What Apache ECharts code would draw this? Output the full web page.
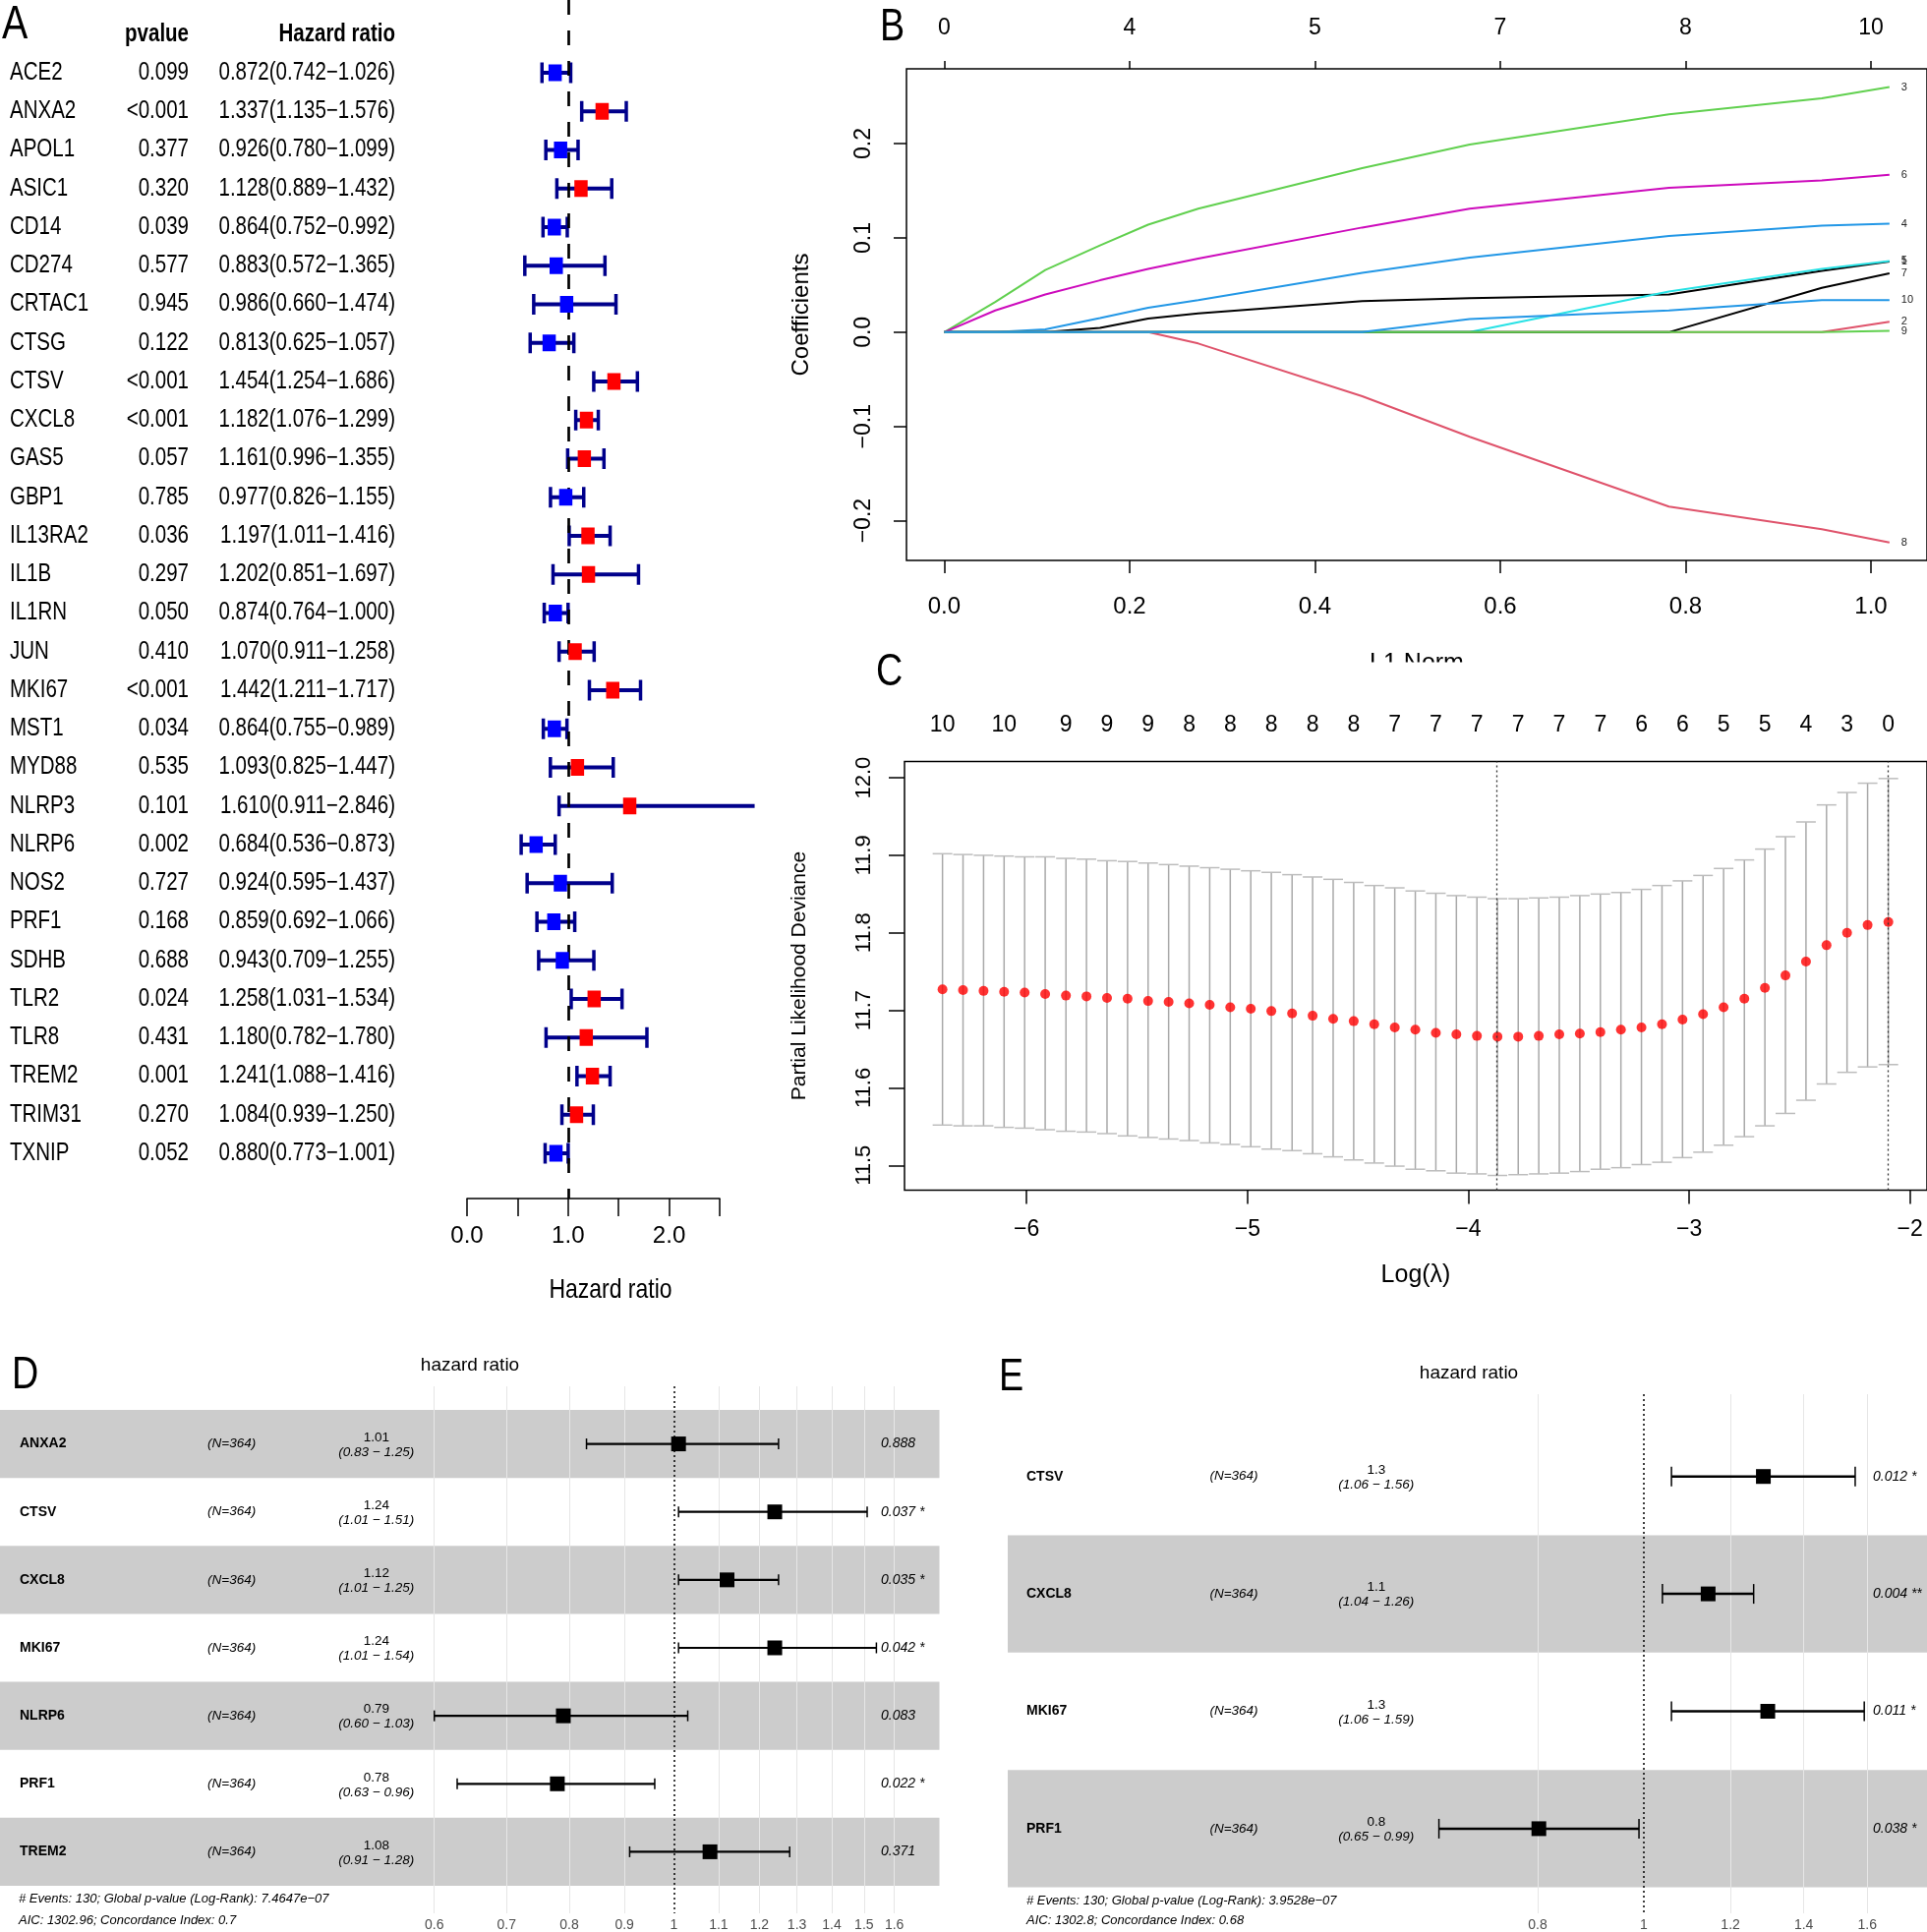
<!DOCTYPE html>
<html><head><meta charset="utf-8">
<script src="https://cdn.jsdelivr.net/npm/echarts@6/dist/echarts.min.js"></script>
<style>html,body{margin:0;padding:0;background:#fff}#c{width:1960px;height:1965px}</style>
</head><body><div id="c"></div>
<script>
// ================= DATA =================
// Panel A : univariate Cox
const genesA = ['ACE2','ANXA2','APOL1','ASIC1','CD14','CD274','CRTAC1','CTSG','CTSV','CXCL8','GAS5','GBP1','IL13RA2','IL1B','IL1RN','JUN','MKI67','MST1','MYD88','NLRP3','NLRP6','NOS2','PRF1','SDHB','TLR2','TLR8','TREM2','TRIM31','TXNIP'];
const pA = ['0.099','<0.001','0.377','0.320','0.039','0.577','0.945','0.122','<0.001','<0.001','0.057','0.785','0.036','0.297','0.050','0.410','<0.001','0.034','0.535','0.101','0.002','0.727','0.168','0.688','0.024','0.431','0.001','0.270','0.052'];
const hrA = [0.872,1.337,0.926,1.128,0.864,0.883,0.986,0.813,1.454,1.182,1.161,0.977,1.197,1.202,0.874,1.070,1.442,0.864,1.093,1.610,0.684,0.924,0.859,0.943,1.258,1.180,1.241,1.084,0.880];
const loA = [0.742,1.135,0.780,0.889,0.752,0.572,0.660,0.625,1.254,1.076,0.996,0.826,1.011,0.851,0.764,0.911,1.211,0.755,0.825,0.911,0.536,0.595,0.692,0.709,1.031,0.782,1.088,0.939,0.773];
const hiA = [1.026,1.576,1.099,1.432,0.992,1.365,1.474,1.057,1.686,1.299,1.355,1.155,1.416,1.697,1.000,1.258,1.717,0.989,1.447,2.846,0.873,1.437,1.066,1.255,1.534,1.780,1.416,1.250,1.001];

// Panel B : LASSO coefficient paths
const xB = [0, 0.055, 0.109, 0.168, 0.220, 0.274, 0.451, 0.567, 0.782, 0.947, 1.020];
const coefB = {
  '1':  [0, 0, 0, 0.0045, 0.0145, 0.020, 0.033, 0.036, 0.040, 0.065, 0.075],
  '2':  [0, 0, 0, 0, 0, 0, 0, 0, 0, 0, 0.011],
  '3':  [0, 0.032, 0.066, 0.092, 0.114, 0.131, 0.174, 0.199, 0.231, 0.248, 0.260],
  '4':  [0, 0, 0.003, 0.015, 0.026, 0.034, 0.063, 0.079, 0.102, 0.113, 0.115],
  '5':  [0, 0, 0, 0, 0, 0, 0, 0, 0.043, 0.067, 0.0755],
  '6':  [0, 0.023, 0.040, 0.055, 0.067, 0.078, 0.111, 0.131, 0.153, 0.161, 0.167],
  '7':  [0, 0, 0, 0, 0, 0, 0, 0, 0, 0.047, 0.0625],
  '8':  [0, 0, 0, 0, 0, -0.012, -0.068, -0.111, -0.185, -0.209, -0.223],
  '9':  [0, 0, 0, 0, 0, 0, 0, 0, 0, 0, 0.0013],
  '10': [0, 0, 0, 0, 0, 0, 0, 0.014, 0.023, 0.034, 0.034]
};
const colorsB = {'1':'#000000','2':'#DF536B','3':'#61D04F','4':'#2297E6','5':'#28E2E5','6':'#CD0BBC','7':'#000000','8':'#DF536B','9':'#61D04F','10':'#2297E6'};
const bTicksX = [0, 0.2, 0.4, 0.6, 0.8, 1.0];
const dfBLab = ['0','4','5','7','8','10'];
const bTicksY = [-0.2, -0.1, 0, 0.1, 0.2];

// Panel C : cross-validation
const logLam = [-6.381,-6.288,-6.195,-6.102,-6.009,-5.916,-5.822,-5.729,-5.636,-5.543,-5.450,-5.357,-5.264,-5.171,-5.078,-4.985,-4.892,-4.798,-4.705,-4.612,-4.519,-4.426,-4.333,-4.240,-4.147,-4.054,-3.961,-3.868,-3.774,-3.681,-3.588,-3.495,-3.402,-3.309,-3.216,-3.123,-3.030,-2.937,-2.844,-2.750,-2.657,-2.564,-2.471,-2.378,-2.285,-2.192,-2.098];
const cvm = [11.727,11.726,11.725,11.724,11.723,11.721,11.719,11.718,11.716,11.715,11.712,11.711,11.709,11.707,11.704,11.702,11.699,11.696,11.693,11.689,11.686,11.682,11.678,11.675,11.671,11.669,11.667,11.666,11.666,11.667,11.669,11.670,11.672,11.675,11.678,11.682,11.688,11.695,11.704,11.715,11.729,11.745,11.763,11.784,11.800,11.810,11.814];
const cvup = [11.902,11.901,11.900,11.899,11.898,11.898,11.896,11.895,11.893,11.892,11.890,11.888,11.886,11.884,11.882,11.880,11.878,11.875,11.872,11.869,11.865,11.861,11.858,11.854,11.851,11.848,11.846,11.844,11.844,11.845,11.846,11.848,11.850,11.852,11.856,11.861,11.867,11.874,11.883,11.894,11.908,11.924,11.943,11.965,11.981,11.993,11.999];
const cvlo = [11.552,11.551,11.551,11.549,11.548,11.546,11.544,11.543,11.541,11.538,11.536,11.534,11.532,11.529,11.527,11.524,11.521,11.519,11.515,11.511,11.507,11.503,11.499,11.495,11.493,11.490,11.489,11.487,11.488,11.489,11.490,11.492,11.495,11.497,11.501,11.504,11.510,11.517,11.526,11.537,11.551,11.567,11.584,11.605,11.620,11.627,11.630];
const dfTopIdx = [0,3,6,8,10,12,14,16,18,20,22,24,26,28,30,32,34,36,38,40,42,44,46];
const dfTopLab = ['10','10','9','9','9','8','8','8','8','8','7','7','7','7','7','7','6','6','5','5','4','3','0'];
const lamMinLog = -3.868, lam1seLog = -2.098;
const cTicksX = [-6, -5, -4, -3, -2];
const cTicksY = [11.5, 11.6, 11.7, 11.8, 11.9, 12.0];

// Panel D : multivariate Cox (7 genes)
const genesD = ['ANXA2','CTSV','CXCL8','MKI67','NLRP6','PRF1','TREM2'];
const hrD = [1.01,1.24,1.12,1.24,0.79,0.78,1.08];
const loD = [0.83,1.01,1.01,1.01,0.60,0.63,0.91];
const hiD = [1.25,1.51,1.25,1.54,1.03,0.96,1.28];
const pD = ['0.888','0.037 *','0.035 *','0.042 *','0.083','0.022 *','0.371'];
const nD = 364;
const ticksD = [0.6,0.7,0.8,0.9,1,1.1,1.2,1.3,1.4,1.5,1.6];
const footD = ['# Events: 130; Global p-value (Log-Rank): 7.4647e\u221207','AIC: 1302.96; Concordance Index: 0.7'];

// Panel E : multivariate Cox (4 genes)
const genesE = ['CTSV','CXCL8','MKI67','PRF1'];
const hrE = [1.286,1.145,1.298,0.802];
const hrLabE = ['1.3','1.1','1.3','0.8'];
const loE = [1.06,1.04,1.06,0.65];
const hiE = [1.56,1.26,1.59,0.99];
const pE = ['0.012 *','0.004 **','0.011 *','0.038 *'];
const nE = 364;
const ticksE = [0.8,1,1.2,1.4,1.6];
const footE = ['# Events: 130; Global p-value (Log-Rank): 3.9528e\u221207','AIC: 1302.8; Concordance Index: 0.68'];

// ================= FONTS =================
function hasFont(name){
  const c=document.createElement('canvas').getContext('2d');
  const s='mmmmmmmmmmlli0123456789WWW';
  c.font='40px monospace'; const w0=c.measureText(s).width;
  c.font='40px "'+name+'", monospace'; const w1=c.measureText(s).width;
  return Math.abs(w0-w1)>0.5;
}
const HAS_NARROW = hasFont('Liberation Sans Narrow');
const SANS = "'Liberation Sans', Arial, sans-serif";
const NARROW = HAS_NARROW ? "'Liberation Sans Narrow', 'Liberation Sans', sans-serif" : SANS;
const NS = HAS_NARROW ? 1 : 0.82;
const NF = HAS_NARROW ? 1 : 0.86;

function txt(text,x,y,size,o){
  o=o||{};
  const al=o.align||'left';
  const el = {type:'text', x:x, y:y, scaleX:o.narrow?NS:1,
    style:{text:text, fill:o.color||'#000', fontSize:size, fontFamily:o.narrow?NARROW:SANS,
      fontWeight:o.bold?'bold':'normal', fontStyle:o.italic?'italic':'normal',
      align:al, textAlign:al, verticalAlign:'middle', textVerticalAlign:'middle'}};
  if (o.z != null) el.z = o.z;
  return el;
}

// ================= STATIC TEXT =================
const G = [
  txt('A', 2, 26, 48, {narrow:true, z:50}),
  txt('B', 895, 28, 46, {narrow:true, z:50}),
  txt('C', 891, 684, 46, {narrow:true, z:50}),
  txt('D', 12, 1399, 46, {narrow:true, z:50}),
  txt('E', 1016, 1401, 46, {narrow:true, z:50}),
  txt('pvalue', 192, 35, 25, {narrow:true, bold:true, align:'right', z:50}),
  txt('Hazard ratio', 402, 35, 25, {narrow:true, bold:true, align:'right', z:50}),
  txt('Hazard ratio', 621, 1312, 28, {narrow:true, align:'center', z:50}),
  txt('L1 Norm', 1441, 675, 25, {align:'center', z:50}),
  {type:'rect', shape:{x:1360,y:673.5,width:170,height:30}, style:{fill:'#fff'}, z:60},
  txt('hazard ratio', 478, 1389, 19, {align:'center', z:50}),
  txt('hazard ratio', 1494, 1397, 19, {align:'center', z:50}),
  txt(footD[0], 19, 1931, 13, {italic:true, z:50}),
  txt(footD[1], 19, 1953, 13, {italic:true, z:50}),
  txt(footE[0], 1044, 1933, 13, {italic:true, z:50}),
  txt(footE[1], 1044, 1953, 13, {italic:true, z:50})
];

// ================= RENDERERS =================
const AX_A_MAX = 2.5;
function aWhisker(params, api){
  const row=api.value(1), lo=api.value(2), hi=api.value(3);
  const pl=api.coord([lo,row]), ph=api.coord([hi,row]);
  const y=pl[1], ch=10.5, st={stroke:'#00008B', lineWidth:4};
  const kids=[{type:'line',shape:{x1:pl[0],y1:y,x2:ph[0],y2:y},style:st},
    {type:'line',shape:{x1:pl[0],y1:y-ch,x2:pl[0],y2:y+ch},style:{stroke:'#00008B',lineWidth:3.5}}];
  if (hi <= AX_A_MAX) kids.push({type:'line',shape:{x1:ph[0],y1:y-ch,x2:ph[0],y2:y+ch},style:{stroke:'#00008B',lineWidth:3.5}});
  return {type:'group',children:kids};
}
function aSquare(params, api){
  const hr=api.value(0), row=api.value(1);
  const p=api.coord([hr,row]);
  return {type:'rect', shape:{x:p[0]-6.75,y:p[1]-8.5,width:13.5,height:17}, style:{fill: hr>1?'#FF0000':'#0000FF'}};
}
function aText(params, api){
  const i=params.dataIndex;
  const y=api.coord([1, api.value(1)])[1];
  const s=hrA[i].toFixed(3)+'('+loA[i].toFixed(3)+'\u2212'+hiA[i].toFixed(3)+')';
  return {type:'group', children:[
    txt(genesA[i], 10, y, 25, {narrow:true}),
    txt(pA[i], 192, y, 25, {narrow:true, align:'right'}),
    txt(s, 402, y, 25, {narrow:true, align:'right'})
  ]};
}
function cErr(params, api){
  const x=api.value(0), lo=api.value(2), hi=api.value(3);
  const pl=api.coord([x,lo]), ph=api.coord([x,hi]);
  const w=10, st={stroke:'#A9A9A9', lineWidth:1.5};
  return {type:'group', children:[
    {type:'line',shape:{x1:pl[0],y1:pl[1],x2:ph[0],y2:ph[1]},style:st},
    {type:'line',shape:{x1:ph[0]-w,y1:ph[1],x2:ph[0]+w,y2:ph[1]},style:{stroke:'#BDBDBD',lineWidth:1.5}},
    {type:'line',shape:{x1:pl[0]-w,y1:pl[1],x2:pl[0]+w,y2:pl[1]},style:{stroke:'#BDBDBD',lineWidth:1.5}}
  ]};
}
function bandRender(x0, x1, parity){
  return function(params, api){
    const i=api.value(1);
    if (i % 2 !== parity) return {type:'group', children:[]};
    const yt=api.coord([1,i])[1], yb=api.coord([1,i+1])[1];
    return {type:'rect', shape:{x:x0,y:yt,width:x1-x0,height:yb-yt}, style:{fill:'#CCCCCC'}};
  };
}
function forestRender(capH, lw){
  return function(params, api){
    const hr=api.value(0), row=api.value(1), lo=api.value(2), hi=api.value(3);
    const pl=api.coord([lo,row]), ph=api.coord([hi,row]), pc=api.coord([hr,row]);
    const y=pc[1], st={stroke:'#000', lineWidth:lw};
    return {type:'group', children:[
      {type:'line',shape:{x1:pl[0],y1:y,x2:ph[0],y2:y},style:st},
      {type:'line',shape:{x1:pl[0],y1:y-capH/2,x2:pl[0],y2:y+capH/2},style:{stroke:'#000',lineWidth:1.5}},
      {type:'line',shape:{x1:ph[0],y1:y-capH/2,x2:ph[0],y2:y+capH/2},style:{stroke:'#000',lineWidth:1.5}},
      {type:'rect',shape:{x:pc[0]-7.5,y:y-7.5,width:15,height:15},style:{fill:'#000'}}
    ]};
  };
}
function tableRender(genes, n, hrTxt, lo, hi, p, xs){
  return function(params, api){
    const i=params.dataIndex;
    const y=api.coord([1, api.value(1)])[1];
    const ci='('+lo[i].toFixed(2)+' \u2212 '+hi[i].toFixed(2)+')';
    return {type:'group', children:[
      txt(genes[i], xs[0], y, 14, {bold:true}),
      txt('(N='+n+')', xs[1], y, 13.5, {italic:true, align:'center'}),
      txt(hrTxt[i], xs[2], y-6.5, 13.5, {align:'center'}),
      txt(ci, xs[2], y+8.5, 13.5, {italic:true, align:'center'}),
      txt(p[i], xs[3], y, 14, {italic:true})
    ]};
  };
}
function fmtHR(v){ return String(Number(v.toFixed(1))); }

// ================= OPTION =================
const seriesB = Object.keys(coefB).map(k => ({
  type:'line', name:k, xAxisIndex:1, yAxisIndex:1, showSymbol:false, symbol:'none',
  data: xB.map((x,j)=>[x, coefB[k][j]]),
  lineStyle:{color:colorsB[k], width:2}, itemStyle:{color:colorsB[k]},
  endLabel:{show:true, formatter:k, distance:12, fontSize:11, color:'#222', fontFamily:SANS},
  z:2
}));

const rowsA = genesA.map((g,i)=>[hrA[i], i, loA[i], hiA[i]]);
const option = {
  animation:false,
  backgroundColor:'#fff',
  textStyle:{fontFamily:SANS},
  graphic: G,
  grid:[
    {left:475, top:0, width:257, height:1219},
    {left:922, top:70, width:1038, height:500, show:true, borderColor:'#000', borderWidth:1.5, backgroundColor:'transparent'},
    {left:920, top:774.5, width:1040, height:436, show:true, borderColor:'#000', borderWidth:1.5, backgroundColor:'transparent'},
    {left:399.2, top:1410, width:548.6, height:536},
    {left:1430.1, top:1418, width:507.8, height:528}
  ],
  xAxis:[
    {gridIndex:0, type:'value', min:0, max:2.5, interval:0.5, position:'bottom',
      axisLine:{show:true, onZero:false, lineStyle:{color:'#000', width:1.5}},
      axisTick:{show:true, length:18, lineStyle:{color:'#000', width:1.5}},
      axisLabel:{formatter:v=>Number.isInteger(v)?v.toFixed(1):'', fontSize:28*NF, fontFamily:NARROW, color:'#000', margin:26},
      splitLine:{show:false}},
    {gridIndex:1, type:'value', min:-0.0408, max:1.0605, position:'bottom',
      axisLine:{show:false, onZero:false},
      axisTick:{show:true, customValues:bTicksX, length:13, lineStyle:{color:'#000', width:1.5}},
      axisLabel:{customValues:bTicksX, formatter:v=>v.toFixed(1), fontSize:24, color:'#000', margin:35},
      splitLine:{show:false}},
    {gridIndex:1, type:'value', min:-0.0408, max:1.0605, position:'top',
      axisLine:{show:false, onZero:false},
      axisTick:{show:true, customValues:bTicksX, length:8, lineStyle:{color:'#000', width:1.5}},
      axisLabel:{customValues:bTicksX, formatter:v=>{const j=bTicksX.findIndex(p=>Math.abs(p-v)<1e-6); return j>=0?dfBLab[j]:'';}, fontSize:23, color:'#000', margin:30},
      splitLine:{show:false}},
    {gridIndex:2, type:'value', min:-6.553, max:-1.923, position:'bottom',
      axisLine:{show:false, onZero:false},
      axisTick:{show:true, customValues:cTicksX, length:14, lineStyle:{color:'#000', width:1.5}},
      axisLabel:{customValues:cTicksX, formatter:v=>(v<0?'\u2212':'')+Math.abs(v), fontSize:23, color:'#000', margin:29},
      splitLine:{show:false},
      name:'Log(\u03bb)', nameLocation:'middle', nameGap:74, nameTextStyle:{fontSize:25, color:'#000'}},
    {gridIndex:2, type:'value', min:-6.553, max:-1.923, position:'top',
      axisLine:{show:false, onZero:false}, axisTick:{show:false},
      axisLabel:{customValues:dfTopIdx.map(i=>logLam[i]), formatter:v=>{const j=dfTopIdx.findIndex(i=>Math.abs(logLam[i]-v)<1e-6); return j>=0?dfTopLab[j]:'';}, fontSize:23, color:'#000', margin:25},
      splitLine:{show:false}},
    {gridIndex:3, type:'log', min:Math.exp(-0.6), max:Math.exp(0.55), position:'bottom',
      axisLine:{show:false, onZero:false}, axisTick:{show:false}, splitLine:{show:false}, minorTick:{show:false}, minorSplitLine:{show:false},
      axisLabel:{customValues:ticksD, formatter:fmtHR, fontSize:14, color:'#4D4D4D', margin:5}},
    {gridIndex:4, type:'log', min:Math.exp(-0.5), max:Math.exp(0.55), position:'bottom',
      axisLine:{show:false, onZero:false}, axisTick:{show:false}, splitLine:{show:false}, minorTick:{show:false}, minorSplitLine:{show:false},
      axisLabel:{customValues:ticksE, formatter:fmtHR, fontSize:14, color:'#4D4D4D', margin:5}}
  ],
  yAxis:[
    {gridIndex:0, type:'value', min:-1.8854, max:29.172, inverse:true, show:false, axisLine:{onZero:false}},
    {gridIndex:1, type:'value', min:-0.2421, max:0.2793, position:'left',
      axisLine:{show:false, onZero:false},
      axisTick:{show:true, customValues:bTicksY, length:13, lineStyle:{color:'#000', width:1.5}},
      axisLabel:{customValues:bTicksY, rotate:90, formatter:v=>(v<0?'\u2212':'')+Math.abs(v).toFixed(1), fontSize:23, color:'#000', margin:32},
      splitLine:{show:false},
      name:'Coefficients', nameLocation:'middle', nameGap:95, nameTextStyle:{fontSize:24, color:'#000'}},
    {gridIndex:2, type:'value', min:11.468, max:12.021, position:'left',
      axisLine:{show:false, onZero:false},
      axisTick:{show:true, customValues:cTicksY, length:16, lineStyle:{color:'#000', width:1.5}},
      axisLabel:{customValues:cTicksY, rotate:90, formatter:v=>v.toFixed(1), fontSize:22, color:'#000', margin:30},
      splitLine:{show:false},
      name:'Partial Likelihood Deviance', nameLocation:'middle', nameGap:96, nameTextStyle:{fontSize:21, color:'#000'}},
    {gridIndex:3, type:'value', min:-0.347, max:7.405, inverse:true, show:false, axisLine:{onZero:false}},
    {gridIndex:4, type:'value', min:-0.201, max:4.221, inverse:true, show:false, axisLine:{onZero:false}}
  ],
  series:[
    // ---- A ----
    {type:'custom', xAxisIndex:0, yAxisIndex:0, renderItem:aWhisker, data:rowsA, encode:{x:0,y:1}, clip:false, z:2},
    {type:'line', xAxisIndex:0, yAxisIndex:0, data:[], z:3,
      markLine:{z:3, silent:true, symbol:'none', label:{show:false},
        lineStyle:{color:'#000', width:2.7, type:[15,16]}, data:[{xAxis:1}]}},
    {type:'custom', xAxisIndex:0, yAxisIndex:0, renderItem:aSquare, data:rowsA, encode:{x:0,y:1}, clip:false, z:4},
    {type:'custom', xAxisIndex:0, yAxisIndex:0, renderItem:aText, data:genesA.map((g,i)=>[1,i]), encode:{x:0,y:1}, clip:false, z:4},
    // ---- B ----
    ...seriesB,
    // ---- C ----
    {type:'custom', xAxisIndex:3, yAxisIndex:2, renderItem:cErr, data:logLam.map((x,i)=>[x,cvm[i],cvlo[i],cvup[i]]), encode:{x:0,y:1}, clip:false, z:2},
    {type:'scatter', xAxisIndex:3, yAxisIndex:2, data:logLam.map((x,i)=>[x,cvm[i]]), symbol:'circle', symbolSize:10, itemStyle:{color:'#FF0000'}, z:3,
      markLine:{silent:true, symbol:'none', label:{show:false}, lineStyle:{color:'#333', width:1.3, type:[2,3]},
        data:[{xAxis:lamMinLog},{xAxis:lam1seLog}]}},
    // ---- D ----
    {type:'custom', xAxisIndex:5, yAxisIndex:3, renderItem:bandRender(0,955.5,0), data:genesD.map((g,i)=>[1,i]), encode:{x:0,y:1}, clip:false, z:0},
    {type:'line', xAxisIndex:5, yAxisIndex:3, data:[], z:1,
      markLine:{z:1, silent:true, symbol:'none', label:{show:false}, lineStyle:{color:'#E6E6E6', width:1, type:'solid'},
        data: ticksD.map(v => v===1 ? {xAxis:v, lineStyle:{color:'#000', width:1.5, type:[2,3]}} : {xAxis:v})}},
    {type:'custom', xAxisIndex:5, yAxisIndex:3, renderItem:forestRender(11,2.2), data:genesD.map((g,i)=>[hrD[i], i+0.5, loD[i], hiD[i]]), encode:{x:0,y:1}, clip:false, z:3},
    {type:'custom', xAxisIndex:5, yAxisIndex:3, renderItem:tableRender(genesD, nD, hrD.map(v=>v.toFixed(2)), loD, hiD, pD, [20,235.6,382.8,896]), data:genesD.map((g,i)=>[1,i+0.5]), encode:{x:0,y:1}, clip:false, z:3},
    // ---- E ----
    {type:'custom', xAxisIndex:6, yAxisIndex:4, renderItem:bandRender(1025,1960,1), data:genesE.map((g,i)=>[1,i]), encode:{x:0,y:1}, clip:false, z:0},
    {type:'line', xAxisIndex:6, yAxisIndex:4, data:[], z:1,
      markLine:{z:1, silent:true, symbol:'none', label:{show:false}, lineStyle:{color:'#E6E6E6', width:1, type:'solid'},
        data: ticksE.map(v => v===1 ? {xAxis:v, lineStyle:{color:'#000', width:1.5, type:[2,3]}} : {xAxis:v})}},
    {type:'custom', xAxisIndex:6, yAxisIndex:4, renderItem:forestRender(20,2.5), data:genesE.map((g,i)=>[hrE[i], i+0.5, loE[i], hiE[i]]), encode:{x:0,y:1}, clip:false, z:3},
    {type:'custom', xAxisIndex:6, yAxisIndex:4, renderItem:tableRender(genesE, nE, hrLabE, loE, hiE, pE, [1044,1255,1399.8,1905]), data:genesE.map((g,i)=>[1,i+0.5]), encode:{x:0,y:1}, clip:false, z:3}
  ]
};
const chart = echarts.init(document.getElementById('c'), null, {renderer:'canvas', width:1960, height:1965});
chart.setOption(option);
</script>
</body></html>
